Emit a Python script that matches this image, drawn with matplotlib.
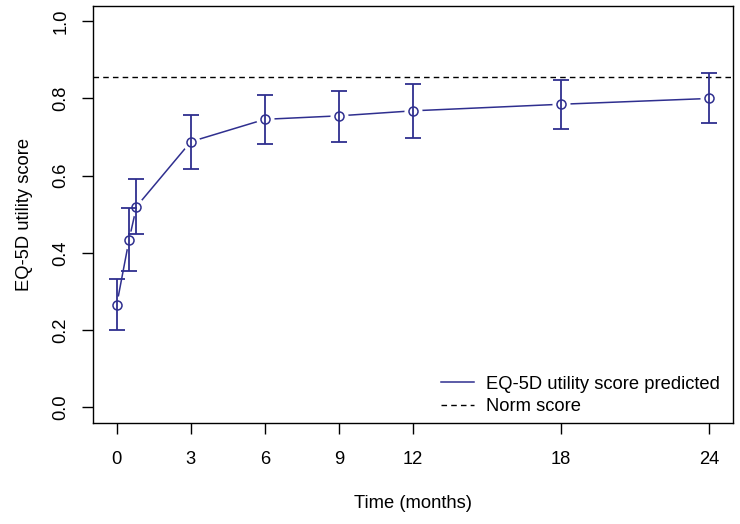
import matplotlib.pyplot as plt

plt.rcParams["font.family"] = ["Liberation Sans", "DejaVu Sans"]

months = [0, 0.5, 0.8, 3, 6, 9, 12, 18, 24]
score = [0.266, 0.434, 0.520, 0.688, 0.746, 0.755, 0.768, 0.785, 0.800]
lower = [0.200, 0.354, 0.449, 0.617, 0.682, 0.688, 0.697, 0.722, 0.737]
upper = [0.332, 0.516, 0.592, 0.757, 0.809, 0.820, 0.838, 0.848, 0.865]
NORM = 0.856
x_ticks = [0, 3, 6, 9, 12, 18, 24]
y_ticks = [0.0, 0.2, 0.4, 0.6, 0.8, 1.0]

BLUE = "#2f2f8f"
FS = 13.2

fig = plt.figure(figsize=(7.4, 5.24), dpi=100)
ax = fig.add_axes([0.1257, 0.193, 0.865, 0.796])

# type="b" look: line, white discs to cut gaps, then bars and open circles
ax.plot(months, score, color=BLUE, lw=1.1, zorder=2, label="EQ-5D utility score predicted")
ax.plot(months, score, "o", ms=13, mfc="white", mec="none", zorder=3)
ax.errorbar(months, score,
            yerr=[[s - l for s, l in zip(score, lower)], [u - s for s, u in zip(score, upper)]],
            fmt="none", ecolor=BLUE, elinewidth=1.3, capsize=6, capthick=1.3, zorder=4)
ax.plot(months, score, "o", ms=6.5, mfc="none", mec=BLUE, mew=1.1, zorder=5)
ax.axhline(NORM, color="black", lw=1, ls=(0, (4, 3)), zorder=1, label="Norm score")

ax.set_xlim(-0.96, 24.96)
ax.set_ylim(-0.04, 1.04)
ax.set_xticks(x_ticks)
ax.set_yticks(y_ticks)
ax.set_yticklabels([f"{v:.1f}" for v in y_ticks], rotation=90, va="center")
ax.tick_params(direction="out", length=8, width=1, labelsize=FS)
ax.tick_params(axis="x", pad=12)
ax.tick_params(axis="y", pad=9)
for s in ax.spines.values():
    s.set_linewidth(1)
ax.set_xlabel("Time (months)", fontsize=FS, labelpad=20)
ax.set_ylabel("EQ-5D utility score", fontsize=FS, labelpad=14)

ax.legend(loc="lower right", bbox_to_anchor=(1.0, -0.012), borderaxespad=0.3,
          fontsize=FS, frameon=False, handlelength=1.8, handletextpad=0.7,
          labelspacing=0.3)

fig.savefig("out.png", dpi=100)
